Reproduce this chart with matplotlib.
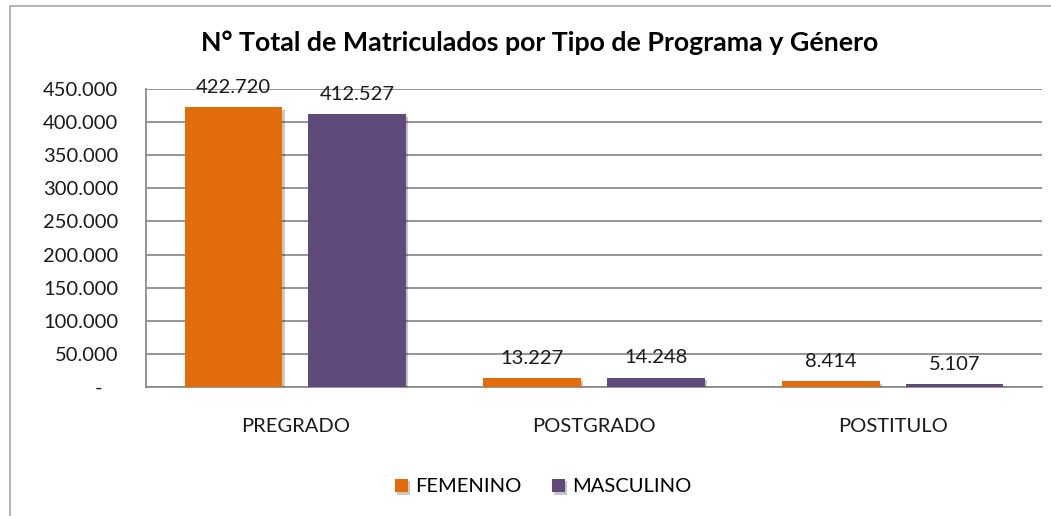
import numpy as np
import matplotlib
matplotlib.use("Agg")
from matplotlib import pyplot as plt
from matplotlib import patheffects
from matplotlib.patches import Rectangle
from matplotlib.ticker import FuncFormatter

categorias = ["PREGRADO", "POSTGRADO", "POSTITULO"]
femenino = [422720, 13227, 8414]
masculino = [412527, 14248, 5107]
series = ["FEMENINO", "MASCULINO"]
colores = ["#E36C0A", "#604A7B"]

plt.rcParams["font.family"] = ["Lato", "DejaVu Sans"]


def miles(v):
    return f"{v:,.0f}".replace(",", ".")


def fmt_eje(v, pos):
    if v == 0:
        return "-   "
    return miles(v)


fig = plt.figure(figsize=(10.51, 5.16), dpi=100)
ax = fig.add_axes([146 / 1051, 129 / 516, 896 / 1051, 298 / 516])

# marco del grafico
fig.patches.append(Rectangle((10 / 1051, -0.1), 1.2, 1 - 6 / 516 + 0.1,
                             transform=fig.transFigure, fill=False,
                             edgecolor="#a6a6a6", lw=1.2, zorder=0))

x = np.arange(len(categorias))
ancho = 0.328
sombra = [patheffects.SimplePatchShadow(offset=(1.5, -2), alpha=0.25),
          patheffects.Normal()]

for i, (vals, nombre, col) in enumerate(zip([femenino, masculino], series, colores)):
    pos = x + (-0.207 if i == 0 else 0.207)
    barras = ax.bar(pos, vals, ancho, color=col, label=nombre, zorder=3)
    for b in barras:
        b.set_path_effects(sombra)
    for px, v in zip(pos, vals):
        ax.annotate(miles(v), (px, v), xytext=(0, 8), textcoords="offset points",
                    ha="center", va="bottom", fontsize=14.5, color="#1a1a1a", zorder=4)

ax.set_xlim(-0.5, 2.5)
ax.set_ylim(0, 450000)
ax.set_yticks(np.arange(0, 450001, 50000))
ax.yaxis.set_major_formatter(FuncFormatter(fmt_eje))
ax.set_xticks(x)
ax.set_xticklabels(categorias)
ax.tick_params(axis="both", length=0, labelsize=14.5, colors="#1a1a1a")
ax.tick_params(axis="y", pad=20)
ax.tick_params(axis="x", pad=22)
ax.grid(axis="y", color="#8c8c8c", lw=1.3, zorder=0)
for lado in ["top", "right"]:
    ax.spines[lado].set_visible(False)
ax.spines["left"].set_color("#8c8c8c")
ax.spines["bottom"].set_color("#8c8c8c")
ax.spines["left"].set_linewidth(1.3)
ax.spines["bottom"].set_linewidth(1.3)

fig.text(0.513, 1 - 43 / 516, "N° Total de Matriculados por Tipo de Programa y Género",
         ha="center", va="center", fontsize=19.3, fontweight="bold", color="#000000")

fig.legend(loc="center", bbox_to_anchor=(0.517, 1 - 487 / 516), ncol=2, frameon=False,
           fontsize=14.5, handlelength=0.65, handleheight=0.65, columnspacing=1.5,
           handletextpad=0.35)

fig.savefig("out.png", dpi=100, facecolor="white")
